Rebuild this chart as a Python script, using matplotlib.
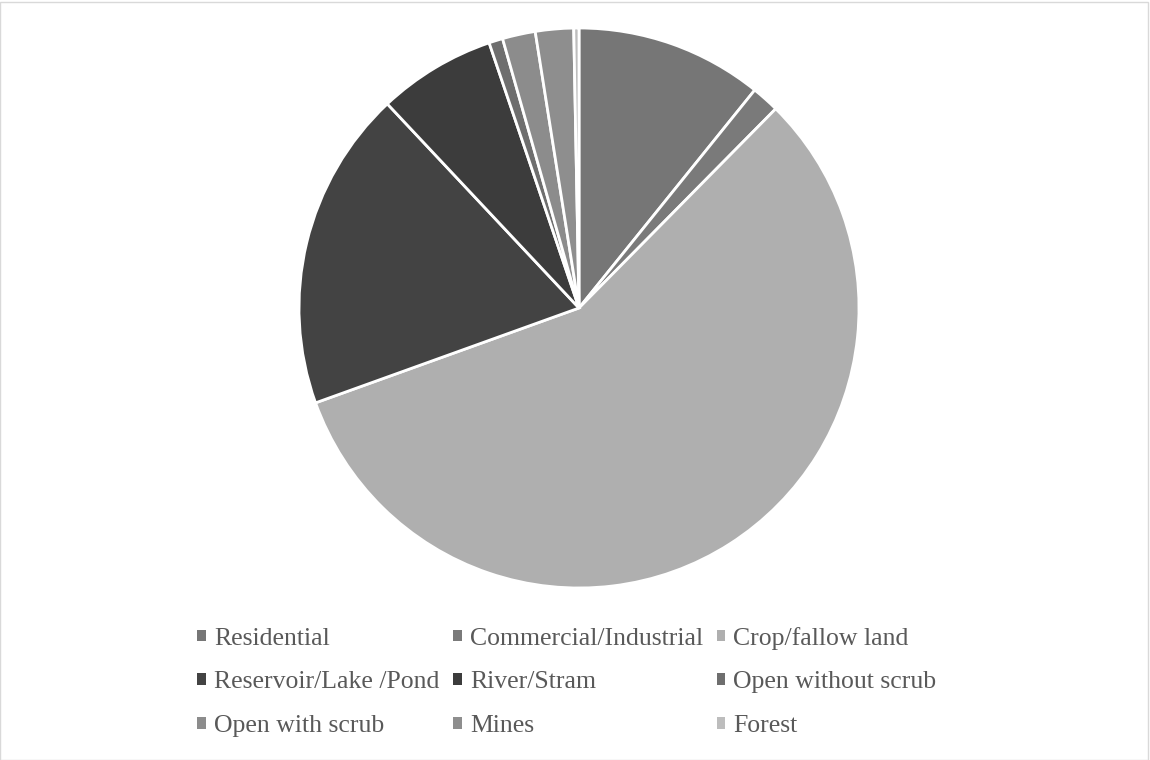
import matplotlib
matplotlib.use("Agg")
import matplotlib.pyplot as plt
from matplotlib.patches import Rectangle

labels = ["Residential", "Commercial/Industrial", "Crop/fallow land",
          "Reservoir/Lake /Pond", "River/Stram", "Open without scrub",
          "Open with scrub", "Mines", "Forest"]
values = [10.8, 1.6, 57.1, 18.5, 6.8, 0.8, 1.9, 2.2, 0.3]
colors = ["#767676", "#7a7a7a", "#afafaf", "#434343", "#3c3c3c",
          "#6e6e6e", "#8c8c8c", "#8e8e8e", "#bdbdbd"]

fig = plt.figure(figsize=(11.5, 7.6), dpi=100)
fig.patches.append(Rectangle((0.0, 0.0), 1148 / 1150, 758 / 760, transform=fig.transFigure,
                             fill=False, edgecolor="#d9d9d9", linewidth=1))

ax = fig.add_axes([299 / 1150, 172 / 760, 560 / 1150, 560 / 760])
wedges, _ = ax.pie(values, colors=colors, startangle=90, counterclock=False,
                   wedgeprops=dict(edgecolor="white", linewidth=2))
ax.set_xlim(-1, 1)
ax.set_ylim(-1, 1)
ax.set_aspect("equal")
ax.axis("off")

# legend fills column-first, so reorder for row-major layout
order = [0, 3, 6, 1, 4, 7, 2, 5, 8]
leg = fig.legend([wedges[i] for i in order], [labels[i] for i in order],
                 ncol=3, loc="center", bbox_to_anchor=(567 / 1150, 78 / 760),
                 frameon=False, handlelength=0.32, handleheight=0.32,
                 handletextpad=0.32, columnspacing=0.55, labelspacing=0.85,
                 borderpad=0, prop=dict(family="Liberation Serif", size=18.5),
                 labelcolor="#595959")
for h in leg.legend_handles:
    h.set_edgecolor("none")

fig.savefig("out.png", dpi=100)
